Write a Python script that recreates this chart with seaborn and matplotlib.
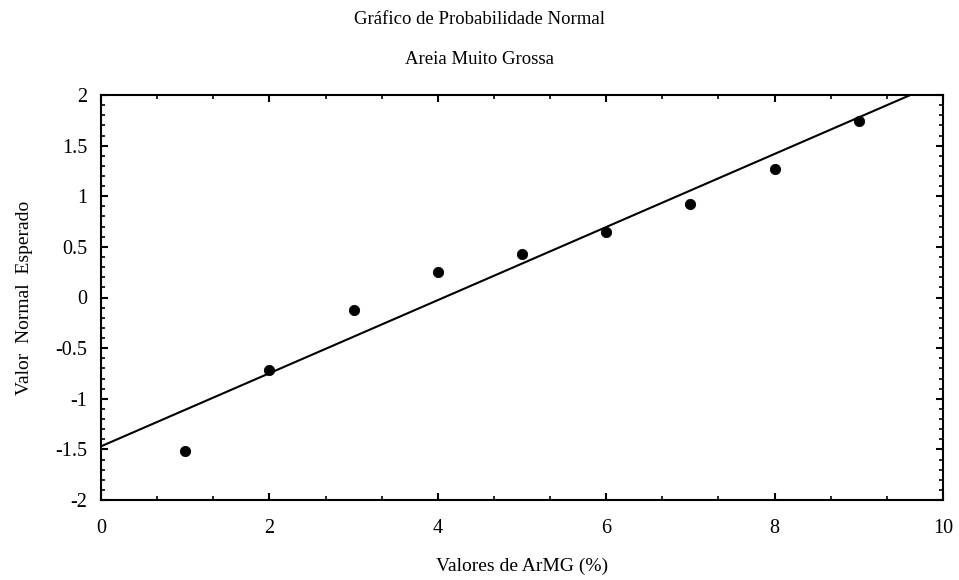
import numpy as np
import pandas as pd
import matplotlib
matplotlib.use("Agg")
import matplotlib.pyplot as plt
import seaborn as sns
from matplotlib.ticker import MultipleLocator

# Data
valores = [1, 2, 3, 4, 5, 6, 7, 8, 9]
esperado = [-1.52, -0.716, -0.125, 0.252, 0.427, 0.645, 0.92, 1.266, 1.74]
linha_x = [0.0, 10.0]
linha_y = [-1.47, 2.14]
xticks = [0, 2, 4, 6, 8, 10]
yticks = [-2, -1.5, -1, -0.5, 0, 0.5, 1, 1.5, 2]
ytick_labels = ["-2", "-1.5", "-1", "-0.5", "0", "0.5", "1", "1.5", "2"]

sns.set_theme(style="white")
plt.rcParams['font.family'] = ['Liberation Serif', 'DejaVu Serif']
plt.rcParams['text.color'] = 'black'
plt.rcParams['axes.labelcolor'] = 'black'
plt.rcParams['xtick.color'] = 'black'
plt.rcParams['ytick.color'] = 'black'

fig = plt.figure(figsize=(9.59, 5.8), dpi=100)
ax = fig.add_axes([101/959, 1 - 500/580, (943-101)/959, (500-95)/580])

df = pd.DataFrame({"x": valores, "y": esperado})
dl = pd.DataFrame({"x": linha_x, "y": linha_y})
sns.lineplot(data=dl, x="x", y="y", ax=ax, color="black", linewidth=1.5)
sns.scatterplot(data=df, x="x", y="y", ax=ax, color="black", s=55, edgecolor="black", zorder=5)

ax.set_xlim(0, 10)
ax.set_ylim(-2, 2)
ax.set_xticks(xticks)
ax.set_xticklabels([str(t) for t in xticks])
ax.set_yticks(yticks)
ax.set_yticklabels(ytick_labels)
ax.xaxis.set_minor_locator(MultipleLocator(2/3))
ax.yaxis.set_minor_locator(MultipleLocator(0.1))

for s in ax.spines.values():
    s.set_color("black")
    s.set_linewidth(1.5)

ax.tick_params(axis="both", which="major", direction="in", length=5, width=1.5,
               top=True, right=True, bottom=True, left=True, labelsize=14.5,
               colors="black", labelcolor="black")
ax.tick_params(axis="x", which="major", pad=14)
ax.tick_params(axis="y", which="major", pad=10)
ax.tick_params(axis="both", which="minor", direction="in", length=3, width=1.2,
               top=True, right=True, bottom=True, left=True)

ax.set_xlabel("Valores de ArMG (%)", fontsize=14, labelpad=14, color="black")
ax.set_ylabel("Valor  Normal  Esperado", fontsize=14, labelpad=16, color="black")

fig.text(0.5, 1 - 20/580, "Gráfico de Probabilidade Normal", ha="center", va="center", fontsize=13.5, color="black")
fig.text(0.5, 1 - 60/580, "Areia Muito Grossa", ha="center", va="center", fontsize=13.5, color="black")

fig.savefig("out.png", dpi=100, facecolor="white")
